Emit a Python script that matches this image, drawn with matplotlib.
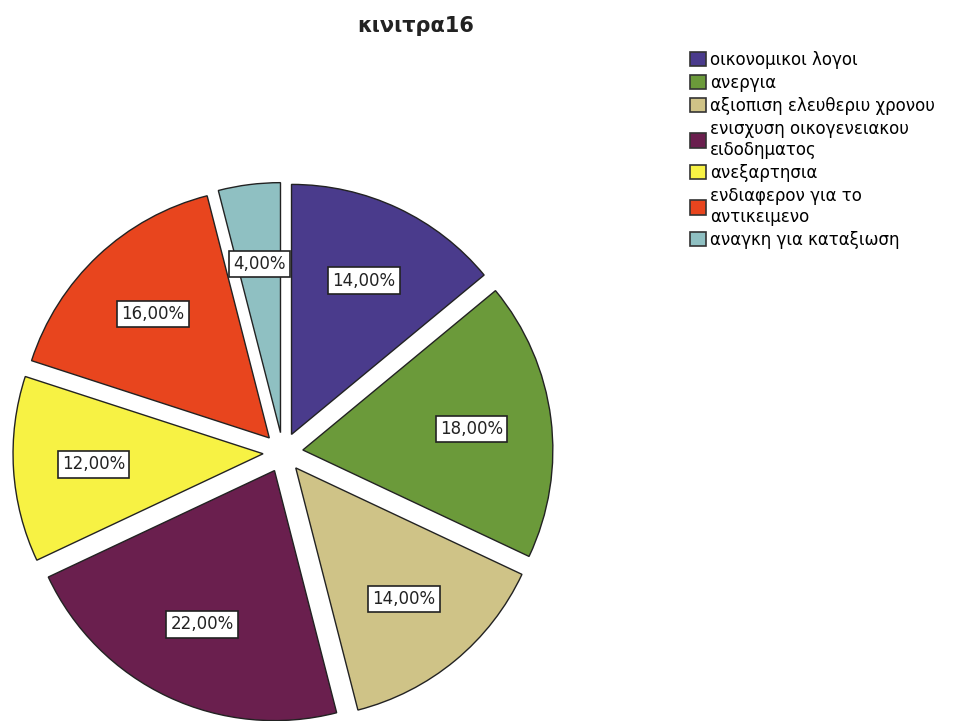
import matplotlib
matplotlib.use("Agg")
import matplotlib.pyplot as plt
from matplotlib.patches import Patch

plt.rcParams['font.family'] = ['DejaVu Sans']

# data
labels = ['οικονομικοι λογοι', 'ανεργια', 'αξιοπιση ελευθεριυ χρονου',
          'ενισχυση οικογενειακου\nειδοδηματος', 'ανεξαρτησια',
          'ενδιαφερον για το\nαντικειμενο', 'αναγκη για καταξιωση']
values = [14, 18, 14, 22, 12, 16, 4]
colors = ['#4a3b8c', '#6b9a3a', '#cfc387', '#6a1f4e', '#f7f244', '#e8451e', '#8fc0c2']

W, H = 957, 721
fig = plt.figure(figsize=(W / 100, H / 100), dpi=100)

# pie centre and radius in pixels
cx, cy, R = 283, 452.5, 250
half = 300
ax = fig.add_axes([(cx - half) / W, (H - cy - half) / H, 2 * half / W, 2 * half / H])

wedges, texts, autotexts = ax.pie(
    values, colors=colors, startangle=90, counterclock=False,
    explode=[0.08] * len(values), radius=1,
    autopct=lambda p: ('%.2f%%' % p).replace('.', ','), pctdistance=0.68,
    wedgeprops=dict(edgecolor='#222222', linewidth=1.0))
for t in autotexts:
    t.set_fontsize(12)
    t.set_color('#222222')
    t.set_bbox(dict(boxstyle='square,pad=0.25', facecolor='white', edgecolor='#222222', linewidth=1.2))
ax.set_xlim(-half / R, half / R)
ax.set_ylim(-half / R, half / R)
ax.axis('off')

fig.text(416 / W, 1 - 26 / H, 'κινιτρα16', ha='center', va='center',
         fontsize=15, fontweight='bold', color='#222222')

handles = [Patch(facecolor=c, edgecolor='#333333', linewidth=1.2) for c in colors]
fig.legend(handles, labels, loc='upper left', bbox_to_anchor=(690 / W, 1 - 51 / H),
           frameon=False, fontsize=12, handlelength=0.95, handleheight=0.95,
           handletextpad=0.25, labelspacing=0.3, borderaxespad=0, borderpad=0)

fig.savefig('out.png', dpi=100, facecolor='white')
